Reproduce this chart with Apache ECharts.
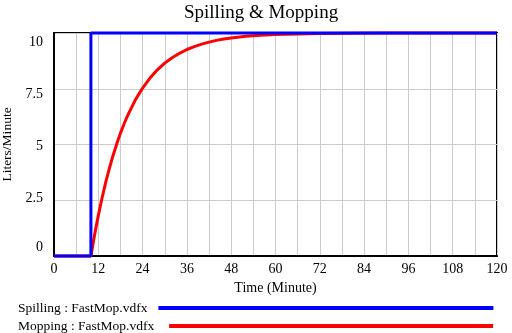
<!DOCTYPE html>
<html>
<head>
<meta charset="utf-8">
<script src="https://cdn.jsdelivr.net/npm/echarts@6/dist/echarts.min.js"></script>
<style>html,body{margin:0;padding:0;background:#fff;}#c{width:512px;height:333px;}</style>
</head>
<body>
<div id="c"></div>
<script>
var titleText = 'Spilling & Mopping';
var spillName = 'Spilling : FastMop.vdfx';
var mopName = 'Mopping : FastMop.vdfx';
var spillTime = [0, 10, 10, 120];
var spillValue = [0, 0, 10, 10];
var mopTime = [0, 10, 11, 12, 13, 14, 15, 16, 17, 18, 19, 20, 22, 24, 26, 28, 30, 32, 34, 36, 38, 40, 42, 44, 46, 48, 52, 56, 60, 66, 72, 80, 90, 100, 120];
var mopValue = [0, 0, 0.95, 1.81, 2.59, 3.30, 3.93, 4.51, 5.03, 5.51, 5.93, 6.32, 6.99, 7.53, 7.98, 8.35, 8.65, 8.89, 9.09, 9.26, 9.39, 9.50, 9.59, 9.67, 9.73, 9.78, 9.85, 9.90, 9.93, 9.96, 9.98, 9.99, 10, 10, 10];
var yTicks = [0, 2.5, 5, 7.5, 10];
var xTickStep = 12;

function pairs(a, b) { return a.map(function (v, i) { return [v, b[i]]; }); }
var serif = '"Liberation Serif", "Times New Roman", serif';
var shiftStyle = {
  s10: { padding: [18, 0, 0, 0] },
  s75: { padding: [11, 0, 0, 0] },
  s5: { padding: [4, 0, 0, 0] },
  s25: { padding: [0, 0, 4, 0] },
  s0: { padding: [0, 0, 18, 0] }
};
var keyMap = { '10': 's10', '7.5': 's75', '5': 's5', '2.5': 's25', '0': 's0' };

var chart = echarts.init(document.getElementById('c'));
chart.setOption({
  backgroundColor: '#fff',
  animation: false,
  title: {
    text: titleText, left: 184, top: 4, padding: 0,
    textStyle: { fontFamily: serif, fontSize: 19, fontWeight: 'normal', color: '#000' }
  },
  grid: { left: 54, right: 15, top: 33, bottom: 77, show: true, borderColor: '#000', borderWidth: 2, backgroundColor: 'transparent', outerBoundsMode: 'none', containLabel: false },
  legend: [
    {
      data: [spillName], left: 18, top: 301, padding: 0, align: 'right', icon: 'rect',
      itemWidth: 335, itemHeight: 4, selectedMode: false,
      textStyle: { fontFamily: serif, fontSize: 13.5, color: '#000', padding: [6, 6, 0, 0] }
    },
    {
      data: [mopName], left: 18, top: 319, padding: 0, align: 'right', icon: 'rect',
      itemWidth: 324, itemHeight: 4, selectedMode: false,
      textStyle: { fontFamily: serif, fontSize: 13.5, color: '#000', padding: [6, 10, 0, 0] }
    }
  ],
  xAxis: {
    type: 'value', min: 0, max: 120, interval: 6,
    name: 'Time (Minute)', nameLocation: 'middle', nameGap: 22,
    nameTextStyle: { fontFamily: serif, fontSize: 14, color: '#000' },
    axisLine: { show: true, lineStyle: { color: '#000', width: 2 } },
    axisTick: { show: false },
    axisLabel: {
      fontFamily: serif, fontSize: 14, color: '#000', margin: 6,
      formatter: function (v) { return v % xTickStep === 0 ? String(v) : ''; }
    },
    splitLine: { show: true, lineStyle: { color: '#cccccc', width: 1 } }
  },
  yAxis: {
    type: 'value', min: 0, max: 10, interval: 2.5,
    name: 'Liters/Minute', nameLocation: 'middle', nameGap: 38,
    nameTextStyle: { fontFamily: serif, fontSize: 13.5, color: '#000' },
    axisLine: { show: true, lineStyle: { color: '#000', width: 2 } },
    axisTick: { show: false },
    axisLabel: {
      fontFamily: serif, fontSize: 14, color: '#000', margin: 11,
      formatter: function (v) {
        if (yTicks.indexOf(v) < 0) return '';
        var k = keyMap[String(v)];
        return '{' + k + '|' + v + '}';
      },
      rich: shiftStyle
    },
    splitLine: { show: true, lineStyle: { color: '#cccccc', width: 1 } }
  },
  series: [
    {
      name: spillName, type: 'line', data: pairs(spillTime, spillValue),
      showSymbol: false, clip: false, z: 4,
      lineStyle: { color: '#0000ff', width: 3 }, itemStyle: { color: '#0000ff' }
    },
    {
      name: mopName, type: 'line', data: pairs(mopTime, mopValue),
      showSymbol: false, clip: false, z: 3,
      lineStyle: { color: '#ff0000', width: 3 }, itemStyle: { color: '#ff0000' }
    }
  ]
});
</script>
</body>
</html>
